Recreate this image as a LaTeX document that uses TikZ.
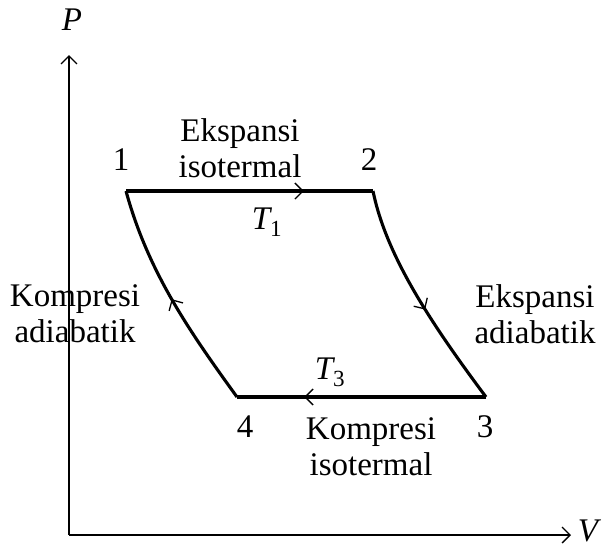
\documentclass[tikz,border=0pt]{standalone}
\usepackage{fontspec}
\setmainfont{Liberation Serif}
\usetikzlibrary{arrows.meta,decorations.markings}
\begin{document}
\begin{tikzpicture}[x=1pt,y=-1pt,
  axis/.style={line width=1.5pt,-{Straight Barb[length=8pt,width=16pt,line width=1.3pt]}},
  cyc/.style={line width=3.1pt},
  midarrow/.style={postaction={decorate,decoration={markings,
     mark=at position #1 with {\arrow{Straight Barb[length=8pt,width=16pt,line width=1.3pt]}}}}},
  lbl/.style={font=\fontsize{33}{36}\selectfont, inner sep=0pt, align=center},
  ital/.style={font=\fontsize{33}{36}\selectfont\itshape, inner sep=0pt}]
\useasboundingbox (0,0) rectangle (608,547);
\coordinate (O) at (69,535);
\coordinate (Ptop) at (69,55);
\coordinate (Vend) at (571,535);
\coordinate (p1) at (126,191);
\coordinate (p2) at (373,191);
\coordinate (p3) at (486,397);
\coordinate (p4) at (237,397);
\draw[axis] (O) -- (Ptop);
\draw[axis] (O) -- (Vend);
\node[ital] (P) at (72,20) {P};
\node[ital] (V) at (588,531) {V};
\draw[cyc,midarrow=0.72] (p1) -- (p2);
\draw[cyc,midarrow=0.55] (p2) .. controls (386,255) and (430,322) .. (p3);
\draw[cyc,midarrow=0.73] (p3) -- (p4);
\draw[cyc,midarrow=0.5] (p4) .. controls (190,332) and (148,272) .. (p1);
\node[lbl] (n1) at (121,160) {1};
\node[lbl] (n2) at (369,160) {2};
\node[lbl] (n3) at (485,427) {3};
\node[lbl] (n4) at (245,427) {4};
\node[lbl] (ei) at (240,148) {Ekspansi\\isotermal};
\node[lbl] (ki) at (371,447) {Kompresi\\isotermal};
\node[lbl] (ka) at (75,314) {Kompresi\\adiabatik};
\node[lbl] (ea) at (535,314) {Ekspansi\\adiabatik};
\node[ital] (T1) at (267,222) {T\textsubscript{\upshape 1}};
\node[ital] (T3) at (330,372) {T\textsubscript{\upshape 3}};
\end{tikzpicture}
\end{document}
